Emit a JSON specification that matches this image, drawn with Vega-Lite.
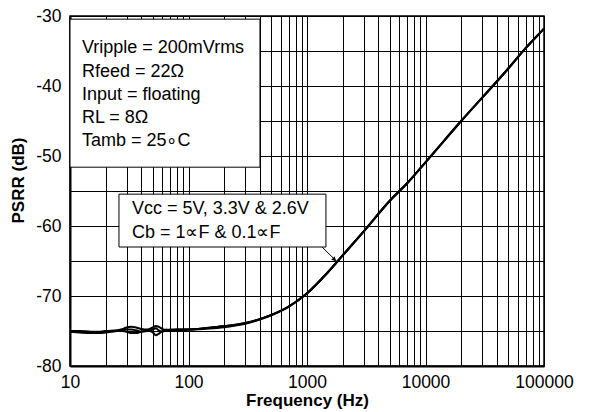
{
  "$schema": "https://vega.github.io/schema/vega-lite/v6.json",
  "width": 474,
  "height": 350,
  "autosize": "none",
  "padding": {"left": 70, "top": 16, "right": 45, "bottom": 46},
  "background": "white",
  "config": {
    "view": {"stroke": "black", "strokeWidth": 1.5},
    "font": "Liberation Sans"
  },
  "datasets": {
    "curve": [
      {"f": 10, "db": -75.0, "s": "a"}, {"f": 12, "db": -75.0, "s": "a"}, {"f": 15, "db": -75.1, "s": "a"}, {"f": 18, "db": -75.1, "s": "a"}, {"f": 20, "db": -75.0, "s": "a"}, {"f": 25, "db": -74.9, "s": "a"}, {"f": 28, "db": -74.7, "s": "a"}, {"f": 30, "db": -74.5, "s": "a"}, {"f": 33, "db": -74.4, "s": "a"}, {"f": 36, "db": -74.5, "s": "a"}, {"f": 40, "db": -74.7, "s": "a"}, {"f": 45, "db": -74.8, "s": "a"}, {"f": 50, "db": -74.5, "s": "a"}, {"f": 53, "db": -74.3, "s": "a"}, {"f": 56, "db": -74.4, "s": "a"}, {"f": 60, "db": -74.7, "s": "a"}, {"f": 65, "db": -74.9, "s": "a"}, {"f": 70, "db": -74.9, "s": "a"}, {"f": 80, "db": -74.8, "s": "a"}, {"f": 90, "db": -74.8, "s": "a"}, {"f": 100, "db": -74.8, "s": "a"}, {"f": 120, "db": -74.7, "s": "a"}, {"f": 150, "db": -74.55, "s": "a"}, {"f": 200, "db": -74.3, "s": "a"}, {"f": 250, "db": -74.1, "s": "a"}, {"f": 300, "db": -73.85, "s": "a"}, {"f": 400, "db": -73.3, "s": "a"}, {"f": 500, "db": -72.7, "s": "a"}, {"f": 700, "db": -71.5, "s": "a"}, {"f": 1000, "db": -69.6, "s": "a"}, {"f": 1500, "db": -66.6, "s": "a"}, {"f": 2000, "db": -64.2, "s": "a"}, {"f": 3000, "db": -60.8, "s": "a"}, {"f": 5000, "db": -56.4, "s": "a"}, {"f": 7000, "db": -53.9, "s": "a"}, {"f": 10000, "db": -50.9, "s": "a"}, {"f": 20000, "db": -45.0, "s": "a"}, {"f": 50000, "db": -37.5, "s": "a"}, {"f": 70000, "db": -34.6, "s": "a"}, {"f": 95000, "db": -32.2, "s": "a"}, {"f": 100000, "db": -31.8, "s": "a"},
      {"f": 10, "db": -75.1, "s": "b"}, {"f": 12, "db": -75.2, "s": "b"}, {"f": 15, "db": -75.3, "s": "b"}, {"f": 18, "db": -75.3, "s": "b"}, {"f": 20, "db": -75.2, "s": "b"}, {"f": 25, "db": -75.0, "s": "b"}, {"f": 28, "db": -74.9, "s": "b"}, {"f": 30, "db": -74.8, "s": "b"}, {"f": 33, "db": -74.8, "s": "b"}, {"f": 36, "db": -74.9, "s": "b"}, {"f": 40, "db": -75.1, "s": "b"}, {"f": 45, "db": -75.0, "s": "b"}, {"f": 50, "db": -74.8, "s": "b"}, {"f": 53, "db": -74.6, "s": "b"}, {"f": 56, "db": -74.9, "s": "b"}, {"f": 60, "db": -75.1, "s": "b"}, {"f": 65, "db": -74.9, "s": "b"}, {"f": 70, "db": -74.8, "s": "b"}, {"f": 80, "db": -74.8, "s": "b"}, {"f": 90, "db": -74.8, "s": "b"}, {"f": 100, "db": -74.8, "s": "b"}, {"f": 120, "db": -74.75, "s": "b"}, {"f": 150, "db": -74.65, "s": "b"}, {"f": 200, "db": -74.45, "s": "b"}, {"f": 250, "db": -74.2, "s": "b"}, {"f": 300, "db": -73.95, "s": "b"}, {"f": 400, "db": -73.35, "s": "b"}, {"f": 500, "db": -72.75, "s": "b"}, {"f": 700, "db": -71.55, "s": "b"}, {"f": 1000, "db": -69.65, "s": "b"}, {"f": 1500, "db": -66.6, "s": "b"}, {"f": 2000, "db": -64.2, "s": "b"}, {"f": 3000, "db": -60.8, "s": "b"}, {"f": 5000, "db": -56.4, "s": "b"}, {"f": 7000, "db": -53.9, "s": "b"}, {"f": 10000, "db": -50.9, "s": "b"}, {"f": 20000, "db": -45.0, "s": "b"}, {"f": 50000, "db": -37.5, "s": "b"}, {"f": 70000, "db": -34.6, "s": "b"}, {"f": 95000, "db": -32.2, "s": "b"}, {"f": 100000, "db": -31.8, "s": "b"},
      {"f": 10, "db": -75.0, "s": "c"}, {"f": 12, "db": -75.1, "s": "c"}, {"f": 15, "db": -75.2, "s": "c"}, {"f": 18, "db": -75.2, "s": "c"}, {"f": 20, "db": -75.1, "s": "c"}, {"f": 25, "db": -75.0, "s": "c"}, {"f": 28, "db": -75.0, "s": "c"}, {"f": 30, "db": -75.1, "s": "c"}, {"f": 33, "db": -75.3, "s": "c"}, {"f": 36, "db": -75.3, "s": "c"}, {"f": 40, "db": -75.1, "s": "c"}, {"f": 45, "db": -74.9, "s": "c"}, {"f": 50, "db": -75.2, "s": "c"}, {"f": 53, "db": -75.6, "s": "c"}, {"f": 56, "db": -75.4, "s": "c"}, {"f": 60, "db": -75.0, "s": "c"}, {"f": 65, "db": -74.8, "s": "c"}, {"f": 70, "db": -74.9, "s": "c"}, {"f": 80, "db": -74.9, "s": "c"}, {"f": 90, "db": -74.85, "s": "c"}, {"f": 100, "db": -74.8, "s": "c"}, {"f": 120, "db": -74.7, "s": "c"}, {"f": 150, "db": -74.55, "s": "c"}, {"f": 200, "db": -74.3, "s": "c"}, {"f": 250, "db": -74.1, "s": "c"}, {"f": 300, "db": -73.85, "s": "c"}, {"f": 400, "db": -73.3, "s": "c"}, {"f": 500, "db": -72.7, "s": "c"}, {"f": 700, "db": -71.5, "s": "c"}, {"f": 1000, "db": -69.6, "s": "c"}, {"f": 1500, "db": -66.6, "s": "c"}, {"f": 2000, "db": -64.2, "s": "c"}, {"f": 3000, "db": -60.8, "s": "c"}, {"f": 5000, "db": -56.4, "s": "c"}, {"f": 7000, "db": -53.9, "s": "c"}, {"f": 10000, "db": -50.9, "s": "c"}, {"f": 20000, "db": -45.0, "s": "c"}, {"f": 50000, "db": -37.5, "s": "c"}, {"f": 70000, "db": -34.6, "s": "c"}, {"f": 95000, "db": -32.2, "s": "c"}, {"f": 100000, "db": -31.8, "s": "c"}
    ],
    "boxes": [
      {"f": 10, "f2": 401, "db": -30.45, "db2": -51.6},
      {"f": 25.9, "f2": 1445, "db": -55.45, "db2": -63.0}
    ],
    "labels": [
      {"f": 12.6, "db": -35.33, "label": "Vripple = 200mVrms"},
      {"f": 12.6, "db": -38.67, "label": "Rfeed = 22Ω"},
      {"f": 12.6, "db": -42.0, "label": "Input = floating"},
      {"f": 12.6, "db": -45.25, "label": "RL = 8Ω"},
      {"f": 12.6, "db": -48.57, "label": "Tamb  = 25∘C"},
      {"f": 33.3, "db": -58.33, "label": "Vcc = 5V, 3.3V & 2.6V"},
      {"f": 33.3, "db": -61.76, "label": "Cb = 1∝F & 0.1∝F"}
    ],
    "arrow": [
      {"f": 1340, "db": -63.0, "f2": 1791, "db2": -65.1}
    ],
    "head": [
      {"f": 1706, "db": -64.8}
    ]
  },
  "encoding": {
    "x": {
      "field": "f",
      "type": "quantitative",
      "scale": {"type": "log", "domain": [10, 100000], "nice": false},
      "axis": {
        "title": "Frequency (Hz)",
        "values": [10, 20, 30, 40, 50, 60, 70, 80, 90, 100, 200, 300, 400, 500, 600, 700, 800, 900, 1000, 2000, 3000, 4000, 5000, 6000, 7000, 8000, 9000, 10000, 20000, 30000, 40000, 50000, 60000, 70000, 80000, 90000, 100000],
        "format": "d",
        "labelExpr": "indexof([10, 100, 1000, 10000, 100000], datum.value) >= 0 ? datum.label : ''",
        "labelOverlap": false,
        "labelFlush": false,
        "labelBound": false,
        "grid": true,
        "gridColor": "black",
        "gridOpacity": 1,
        "gridWidth": 1,
        "ticks": false,
        "domainColor": "black",
        "domainWidth": 2,
        "labelFont": "Liberation Sans",
        "labelFontSize": 17.5,
        "labelColor": "black",
        "labelPadding": 7,
        "titleFont": "Liberation Sans",
        "titleFontSize": 17,
        "titleFontWeight": "bold",
        "titleColor": "black",
        "titlePadding": 2
      }
    },
    "y": {
      "field": "db",
      "type": "quantitative",
      "scale": {"domain": [-80, -30], "nice": false, "zero": false},
      "axis": {
        "title": "PSRR (dB)",
        "values": [-80, -75, -70, -65, -60, -55, -50, -45, -40, -35, -30],
        "labelExpr": "datum.value % 10 == 0 ? '' + datum.value : ''",
        "labelOverlap": false,
        "labelFlush": false,
        "labelBound": false,
        "grid": true,
        "gridColor": "black",
        "gridOpacity": 1,
        "gridWidth": 1,
        "ticks": false,
        "domainColor": "black",
        "domainWidth": 2,
        "labelFont": "Liberation Sans",
        "labelFontSize": 17.5,
        "labelColor": "black",
        "labelPadding": 9,
        "titleFont": "Liberation Sans",
        "titleFontSize": 17,
        "titleFontWeight": "bold",
        "titleColor": "black",
        "titleY": 164,
        "titlePadding": 8
      }
    }
  },
  "layer": [
    {
      "data": {"name": "curve"},
      "mark": {"type": "line", "color": "black", "strokeWidth": 2, "interpolate": "monotone"},
      "encoding": {"detail": {"field": "s", "type": "nominal"}}
    },
    {
      "data": {"name": "boxes"},
      "mark": {"type": "rect", "fill": "white", "stroke": "black", "strokeWidth": 1},
      "encoding": {
        "x2": {"field": "f2"},
        "y2": {"field": "db2"}
      }
    },
    {
      "data": {"name": "labels"},
      "mark": {"type": "text", "align": "left", "baseline": "alphabetic", "font": "Liberation Sans", "fontSize": 18, "color": "black"},
      "encoding": {"text": {"field": "label", "type": "nominal"}}
    },
    {
      "data": {"name": "arrow"},
      "mark": {"type": "rule", "color": "black", "strokeWidth": 1},
      "encoding": {
        "x2": {"field": "f2"},
        "y2": {"field": "db2"}
      }
    },
    {
      "data": {"name": "head"},
      "mark": {"type": "point", "shape": "triangle-down", "filled": true, "color": "black", "size": 25, "angle": 315, "opacity": 1},
      "encoding": {}
    }
  ]
}
